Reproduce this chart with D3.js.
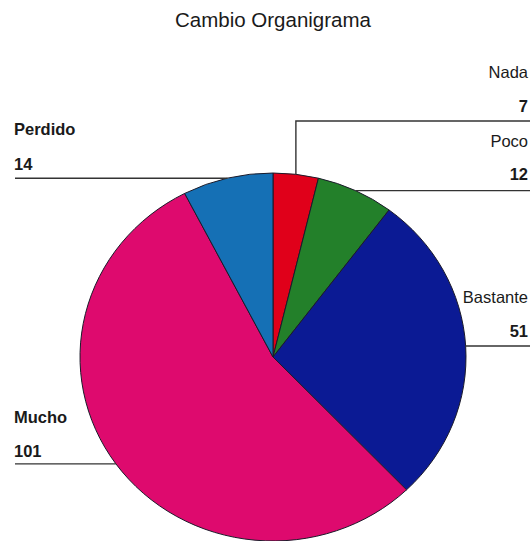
<!DOCTYPE html>
<html>
<head>
<meta charset="utf-8">
<script src="https://cdn.jsdelivr.net/npm/d3@7/dist/d3.min.js"></script>
<style>
  html, body { margin: 0; padding: 0; background: #fff; }
  svg { display: block; }
  text { font-family: "Liberation Sans", Arial, sans-serif; fill: #1a1a1a; }
</style>
</head>
<body>
<svg id="chart" width="530" height="541"></svg>
<script>
// Data
const categories = ["Nada", "Poco", "Bastante", "Mucho", "Perdido"];
const values = [7, 12, 51, 101, 14];
const colors = ["#e0001a", "#23802a", "#0b1a94", "#de0a6e", "#1570b5"];
const titleText = "Cambio Organigrama";

const W = 530, H = 541;
const cx = 273, cy = 357, rx = 193, ry = 184;

const svg = d3.select("#chart");

svg.append("text")
  .attr("x", 273).attr("y", 27)
  .attr("text-anchor", "middle")
  .style("font-size", "20.5px")
  .text(titleText);

const pie = d3.pie().sort(null).value(d => d.v);
const data = categories.map((c, i) => ({ c, v: values[i], col: colors[i] }));
const arcs = pie(data);
const arc = d3.arc().innerRadius(0).outerRadius(rx);

const g = svg.append("g")
  .attr("transform", `translate(${cx},${cy}) scale(1,${ry / rx})`);

g.selectAll("path").data(arcs).enter().append("path")
  .attr("d", arc)
  .attr("fill", d => d.data.col)
  .attr("stroke", "#1b1b2a")
  .attr("stroke-width", 1)
  .attr("vector-effect", "non-scaling-stroke");

// leader lines & labels
function edgePoint(a) {
  const m = (a.startAngle + a.endAngle) / 2;
  return [cx + rx * Math.sin(m), cy - ry * Math.cos(m), m];
}

const labelCfg = {
  "Nada":     { elbowY: 121, side: "right", nameY: 78,  valY: 112, nameBold: false },
  "Poco":     { side: "right", nameY: 147, valY: 180, nameBold: false },
  "Bastante": { side: "right", nameY: 303, valY: 337, nameBold: false },
  "Mucho":    { side: "left",  nameY: 423, valY: 457, nameBold: true },
  "Perdido":  { side: "left",  nameY: 135, valY: 170, nameBold: true }
};

const lineColor = "#333";
arcs.forEach(a => {
  const cfg = labelCfg[a.data.c];
  const [px, py] = edgePoint(a);
  let pts;
  if (cfg.elbowY !== undefined) {
    pts = [[px, py], [px, cfg.elbowY], [W, cfg.elbowY]];
  } else if (cfg.side === "right") {
    pts = [[px, py], [W, py]];
  } else {
    pts = [[px, py], [15, py]];
  }
  svg.append("path")
    .attr("d", d3.line()(pts))
    .attr("fill", "none")
    .attr("stroke", lineColor)
    .attr("stroke-width", 1.4);

  const tx = cfg.side === "right" ? 528 : 14;
  const anchor = cfg.side === "right" ? "end" : "start";
  svg.append("text")
    .attr("x", tx).attr("y", cfg.nameY)
    .attr("text-anchor", anchor)
    .style("font-size", "16.5px")
    .style("font-weight", cfg.nameBold ? "bold" : "normal")
    .text(a.data.c);
  svg.append("text")
    .attr("x", tx).attr("y", cfg.valY)
    .attr("text-anchor", anchor)
    .style("font-size", "16.5px")
    .style("font-weight", "bold")
    .text(a.data.v);
});
</script>
</body>
</html>
